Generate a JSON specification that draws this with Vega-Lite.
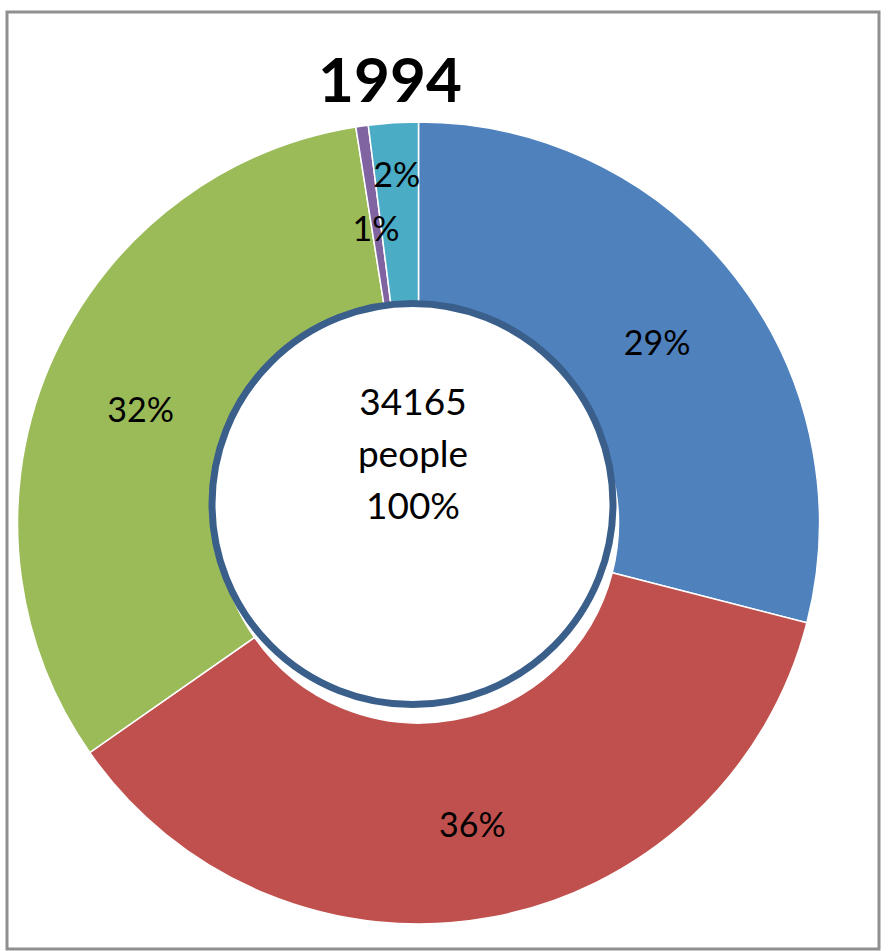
{
  "$schema": "https://vega.github.io/schema/vega-lite/v6.json",
  "width": 872,
  "height": 937,
  "autosize": "none",
  "padding": {"left": 7, "top": 12, "right": 10, "bottom": 2},
  "background": "white",
  "config": {
    "view": {"stroke": null},
    "font": "Lato"
  },
  "title": {
    "text": "1994",
    "font": "Lato",
    "fontSize": 62,
    "fontWeight": "bold",
    "color": "#000000",
    "anchor": "middle",
    "baseline": "alphabetic",
    "offset": -153,
    "dx": -53
  },
  "data": {
    "values": [
      {"segment": "Category 1", "rank": 1, "people": 9908, "label": "29%"},
      {"segment": "Category 2", "rank": 2, "people": 12402, "label": "36%"},
      {"segment": "Category 3", "rank": 3, "people": 11001, "label": "32%"},
      {"segment": "Category 4", "rank": 4, "people": 171, "label": "1%"},
      {"segment": "Category 5", "rank": 5, "people": 683, "label": "2%"}
    ]
  },
  "layer": [
    {
      "data": {"values": [{"frame": "chart area"}]},
      "mark": {"type": "rect", "fill": "white", "stroke": "#8f8f8f", "strokeWidth": 3},
      "encoding": {}
    },
    {
      "mark": {"type": "arc", "outerRadius": 401, "innerRadius": 200, "stroke": "white", "strokeWidth": 1.5, "xOffset": -24.5, "yOffset": 42.5},
      "encoding": {
        "theta": {"field": "people", "type": "quantitative", "stack": true},
        "order": {"field": "rank", "type": "quantitative"},
        "color": {
          "field": "segment",
          "type": "nominal",
          "scale": {
            "domain": ["Category 1", "Category 2", "Category 3", "Category 4", "Category 5"],
            "range": ["#4F81BD", "#C0504D", "#9BBB59", "#8064A2", "#4BACC6"]
          },
          "legend": null
        }
      }
    },
    {
      "mark": {"type": "text", "radius": 302, "fontSize": 34, "color": "#000000", "xOffset": -24.5, "yOffset": 42.5, "dy": 7},
      "encoding": {
        "theta": {"field": "people", "type": "quantitative", "stack": true},
        "order": {"field": "rank", "type": "quantitative"},
        "text": {"condition": {"test": "datum.segment !== 'Category 5'", "field": "label"}, "value": ""}
      }
    },
    {
      "mark": {"type": "text", "radius": 346, "fontSize": 34, "color": "#000000", "xOffset": -24.5, "yOffset": 42.5, "dy": -1},
      "encoding": {
        "theta": {"field": "people", "type": "quantitative", "stack": true},
        "order": {"field": "rank", "type": "quantitative"},
        "text": {"condition": {"test": "datum.segment === 'Category 5'", "field": "label"}, "value": ""}
      }
    },
    {
      "data": {"values": [{"total": 34165}]},
      "mark": {"type": "arc", "outerRadius": 200.5, "innerRadius": 0, "fill": "white", "stroke": "#3A5F8B", "strokeWidth": 7, "xOffset": -30.5, "yOffset": 23.5},
      "encoding": {}
    },
    {
      "data": {"values": [{"lines": ["34165", "people", "100%"]}]},
      "mark": {"type": "text", "fontSize": 37, "lineHeight": 52, "baseline": "middle", "align": "center", "color": "#000000", "xOffset": -30, "yOffset": -77},
      "encoding": {
        "text": {"field": "lines"}
      }
    }
  ]
}
